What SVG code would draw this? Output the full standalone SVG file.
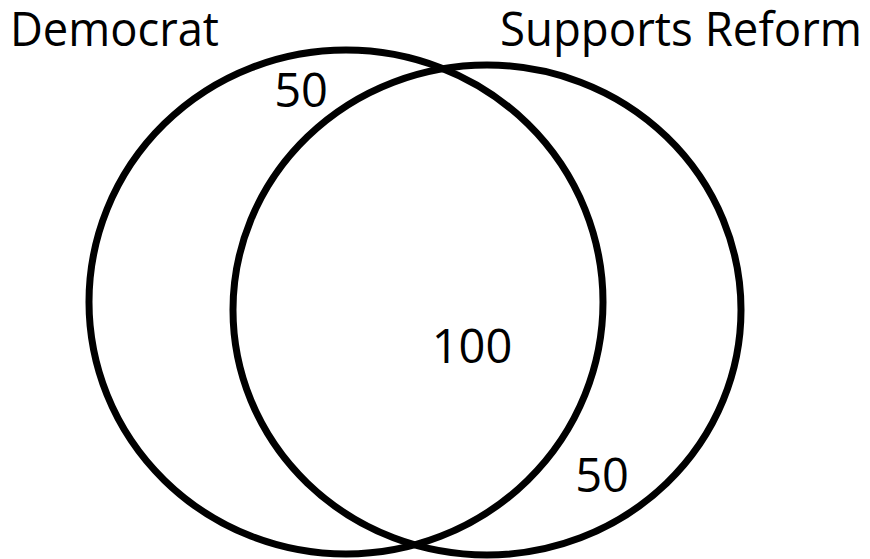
<svg xmlns="http://www.w3.org/2000/svg" width="870" height="559" viewBox="0 0 870 559">
<style>
.c{fill:none;stroke:#000;stroke-width:7}
.t{font-family:"Open Sans","Noto Sans",sans-serif;font-size:47px;fill:#000}
.m{text-anchor:middle}
</style>
<rect width="870" height="559" fill="#fff"/>
<g id="democrat">
<ellipse class="c" cx="346" cy="302" rx="257" ry="252"/>
<text class="t" x="10" y="46" textLength="209" lengthAdjust="spacingAndGlyphs">Democrat</text>
</g>
<g id="supports-reform">
<ellipse class="c" cx="487" cy="310" rx="254" ry="245"/>
<text class="t" x="500" y="46" textLength="362" lengthAdjust="spacingAndGlyphs">Supports Reform</text>
</g>
<g id="labels">
<text class="t m" x="301" y="107">50</text>
<text class="t m" x="472" y="363">100</text>
<text class="t m" x="602" y="492">50</text>
</g>
<g id="connectors"/>
</svg>
